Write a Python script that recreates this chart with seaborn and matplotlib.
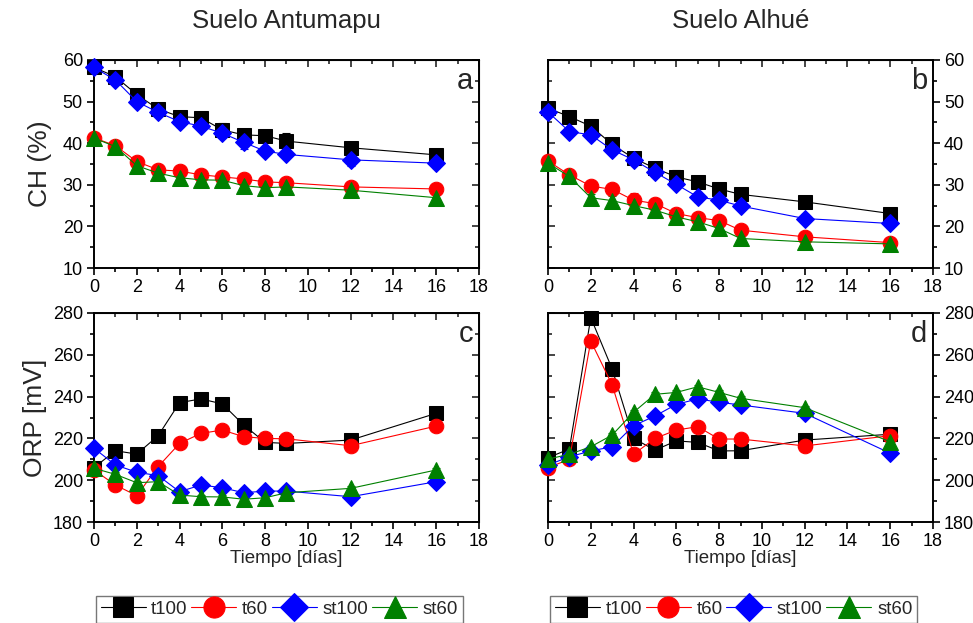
import numpy as np
import pandas as pd
import seaborn as sns
import matplotlib.pyplot as plt
from matplotlib.ticker import MultipleLocator

sns.set_style("white")
plt.rcParams['font.family'] = ['Liberation Sans', 'DejaVu Sans']

dias = [0, 1, 2, 3, 4, 5, 6, 7, 8, 9, 12, 16]
series = ['t100', 't60', 'st100', 'st60']

# CH (%) - Suelo Antumapu
ch_ant_t100 = [58.2, 56.0, 51.7, 48.2, 46.4, 46.1, 43.2, 42.0, 41.8, 40.5, 38.9, 37.2]
ch_ant_t60 = [41.3, 39.4, 35.6, 33.6, 33.3, 32.4, 31.9, 31.4, 30.7, 30.5, 29.5, 29.0]
ch_ant_st100 = [58.2, 55.2, 50.0, 47.4, 45.2, 44.1, 42.4, 40.2, 38.1, 37.3, 36.0, 35.2]
ch_ant_st60 = [41.2, 39.2, 34.6, 32.8, 31.7, 31.2, 31.1, 29.8, 29.3, 29.5, 28.7, 26.9]
ch_ant_t100_err = [0.6, 0.8, 0.8, 0.7, 0.8, 1.0, 1.6, 0.8, 0.6, 1.9, 0.8, 0.8]
ch_ant_t60_err = [0.8, 0.9, 0.9, 0.7, 0.7, 0.9, 0.9, 1.4, 0.8, 0.8, 0.9, 0.7]
ch_ant_st100_err = [0.6, 0.8, 0.8, 0.8, 1.4, 1.0, 1.2, 1.5, 0.8, 0.8, 1.5, 1.2]
ch_ant_st60_err = [0.8, 1.0, 1.6, 1.0, 1.3, 1.2, 1.0, 1.0, 1.0, 1.3, 1.2, 1.1]

# CH (%) - Suelo Alhue
ch_alh_t100 = [48.4, 46.4, 44.1, 39.7, 36.4, 34.0, 31.9, 30.7, 29.0, 27.7, 25.9, 23.1]
ch_alh_t60 = [35.7, 32.4, 29.7, 28.9, 26.3, 25.5, 23.1, 22.1, 21.4, 19.1, 17.5, 16.1]
ch_alh_st100 = [47.5, 42.8, 42.0, 38.4, 36.0, 33.0, 30.1, 27.1, 26.3, 24.9, 21.9, 20.7]
ch_alh_st60 = [35.2, 32.0, 26.9, 26.2, 25.0, 23.9, 22.3, 21.1, 19.5, 17.1, 16.3, 15.8]
ch_alh_t100_err = [0.8, 0.8, 0.8, 1.4, 0.8, 0.8, 1.6, 0.8, 0.8, 0.8, 0.8, 0.8]
ch_alh_t60_err = [0.9, 0.9, 1.0, 0.9, 1.8, 1.3, 0.9, 0.9, 0.9, 0.9, 0.9, 0.8]
ch_alh_st100_err = [0.8, 0.8, 1.2, 0.8, 0.8, 1.2, 0.8, 1.2, 1.2, 1.0, 1.2, 1.2]
ch_alh_st60_err = [1.5, 1.0, 1.0, 1.2, 1.2, 1.2, 1.2, 1.0, 1.2, 1.0, 1.4, 1.0]

# ORP [mV] - Suelo Antumapu
orp_ant_t100 = [206, 214.1, 212.5, 221.3, 237.1, 238.9, 236.5, 226.4, 218.1, 217.6, 219.2, 232.0]
orp_ant_t60 = [204.9, 197.7, 192.6, 206.5, 217.6, 222.4, 224.0, 220.8, 220.0, 219.8, 216.5, 225.9]
orp_ant_st100 = [215.3, 207.3, 203.8, 202.2, 194.5, 197.7, 196.4, 194.0, 194.8, 194.8, 192.1, 199.3]
orp_ant_st60 = [205.7, 202.8, 198.8, 199.3, 192.9, 192.1, 192.0, 190.9, 191.6, 194.0, 196.1, 204.9]

# ORP [mV] - Suelo Alhue
orp_alh_t100 = [210.8, 214.9, 277.8, 253.2, 220.0, 214.4, 218.8, 218.1, 214.0, 214.1, 219.2, 222.0]
orp_alh_t60 = [206.0, 210.0, 266.6, 245.6, 212.4, 220.0, 224.0, 225.6, 219.7, 219.7, 216.4, 221.3]
orp_alh_st100 = [207.3, 211.2, 214.0, 216.0, 226.1, 230.7, 236.3, 238.9, 237.3, 236.0, 232.0, 212.9]
orp_alh_st60 = [210.1, 212.4, 216.0, 221.6, 232.5, 241.1, 242.0, 244.7, 242.0, 239.2, 234.7, 218.4]
orp_err = [1.0, 1.0, 1.0, 1.0, 1.0, 1.0, 1.0, 1.0, 1.0, 1.0, 1.0, 1.0]

colors = {'t100': 'black', 't60': 'red', 'st100': 'blue', 'st60': 'green'}
markers = {'t100': 's', 't60': 'o', 'st100': 'D', 'st60': '^'}
sizes = {'t100': 9.5, 't60': 10.5, 'st100': 9.5, 'st60': 11}


def long_df(vals):
    rows = []
    for name, v in zip(series, vals):
        for d, y in zip(dias, v):
            rows.append({'dia': d, 'valor': y, 'serie': name})
    return pd.DataFrame(rows)


def draw(ax, vals, errs):
    df = long_df(vals)
    for name, v, e in zip(series, vals, errs):
        sub = df[df['serie'] == name]
        ax.errorbar(dias, v, yerr=e, fmt='none', ecolor=colors[name],
                    elinewidth=0.8, capsize=3, capthick=0.8, zorder=2)
        sns.lineplot(data=sub, x='dia', y='valor', ax=ax, color=colors[name],
                     marker=markers[name], markersize=sizes[name],
                     markeredgecolor=colors[name], linewidth=0.8,
                     label=name, legend=False, zorder=3)


def style(ax, ymin, ymax, ymaj, ymin_step, right):
    ax.set_xlim(0, 18)
    ax.set_ylim(ymin, ymax)
    ax.xaxis.set_major_locator(MultipleLocator(2))
    ax.xaxis.set_minor_locator(MultipleLocator(1))
    ax.yaxis.set_major_locator(MultipleLocator(ymaj))
    ax.yaxis.set_minor_locator(MultipleLocator(ymin_step))
    for sp in ax.spines.values():
        sp.set_linewidth(1.4)
        sp.set_color('black')
    ax.set_xlabel('')
    ax.set_ylabel('')
    if right:
        ax.yaxis.tick_right()
    ax.tick_params(which='both', direction='out', colors='black', width=1.2,
                   labelsize=13, bottom=True, left=not right, right=right,
                   pad=3)
    ax.tick_params(which='major', length=5)
    ax.tick_params(which='minor', length=3)
    top = ax.secondary_xaxis('top')
    top.xaxis.set_major_locator(MultipleLocator(2))
    top.xaxis.set_minor_locator(MultipleLocator(1))
    top.tick_params(which='both', direction='in', labeltop=False, width=1.2)
    top.tick_params(which='major', length=5)
    top.tick_params(which='minor', length=3)
    side = ax.secondary_yaxis('left' if right else 'right')
    side.yaxis.set_major_locator(MultipleLocator(ymaj))
    side.yaxis.set_minor_locator(MultipleLocator(ymin_step))
    side.tick_params(which='both', direction='in', labelleft=False,
                     labelright=False, width=1.2)
    side.tick_params(which='major', length=5)
    side.tick_params(which='minor', length=3)
    ax.grid(False)


fig = plt.figure(figsize=(9.73, 6.23), dpi=100)
ax_a = fig.add_axes([0.0966, 0.5698, 0.3957, 0.3339])
ax_b = fig.add_axes([0.5632, 0.5698, 0.3957, 0.3339])
ax_c = fig.add_axes([0.0966, 0.1621, 0.3957, 0.3355])
ax_d = fig.add_axes([0.5632, 0.1621, 0.3957, 0.3355])

draw(ax_a, [ch_ant_t100, ch_ant_t60, ch_ant_st100, ch_ant_st60],
     [ch_ant_t100_err, ch_ant_t60_err, ch_ant_st100_err, ch_ant_st60_err])
draw(ax_b, [ch_alh_t100, ch_alh_t60, ch_alh_st100, ch_alh_st60],
     [ch_alh_t100_err, ch_alh_t60_err, ch_alh_st100_err, ch_alh_st60_err])
draw(ax_c, [orp_ant_t100, orp_ant_t60, orp_ant_st100, orp_ant_st60],
     [orp_err] * 4)
draw(ax_d, [orp_alh_t100, orp_alh_t60, orp_alh_st100, orp_alh_st60],
     [orp_err] * 4)

style(ax_a, 10, 60, 10, 5, False)
style(ax_b, 10, 60, 10, 5, True)
style(ax_c, 180, 280, 20, 10, False)
style(ax_d, 180, 280, 20, 10, True)

for ax, letter in zip([ax_a, ax_b, ax_c, ax_d], ['a', 'b', 'c', 'd']):
    ax.text(0.985, 0.965, letter, transform=ax.transAxes, ha='right', va='top',
            fontsize=21)
    for line in ax.get_lines():
        line.set_clip_on(False)

ax_a.set_title('Suelo Antumapu', fontsize=18.5, pad=23)
ax_b.set_title('Suelo Alhué', fontsize=18.5, pad=23)
ax_a.set_ylabel('CH (%)', fontsize=19, labelpad=8)
ax_c.set_ylabel('ORP [mV]', fontsize=19, labelpad=4)
ax_c.set_xlabel('Tiempo [días]', fontsize=13.5, labelpad=0)
ax_d.set_xlabel('Tiempo [días]', fontsize=13.5, labelpad=0)

for ax, cx in [(ax_c, 0.287), (ax_d, 0.754)]:
    handles = [h for h in ax.get_lines() if h.get_label() in series]
    leg = fig.legend(handles=handles, labels=series, loc='upper center',
                     bbox_to_anchor=(cx, 0.043), ncol=4, fontsize=13.5,
                     frameon=True, fancybox=False, handlelength=2.4,
                     handletextpad=0.3, columnspacing=0.2, borderpad=0.25,
                     borderaxespad=0.0, markerscale=1.45)
    leg.get_frame().set_edgecolor('#555555')
    leg.get_frame().set_linewidth(1.0)

fig.savefig('out.png', dpi=100)
